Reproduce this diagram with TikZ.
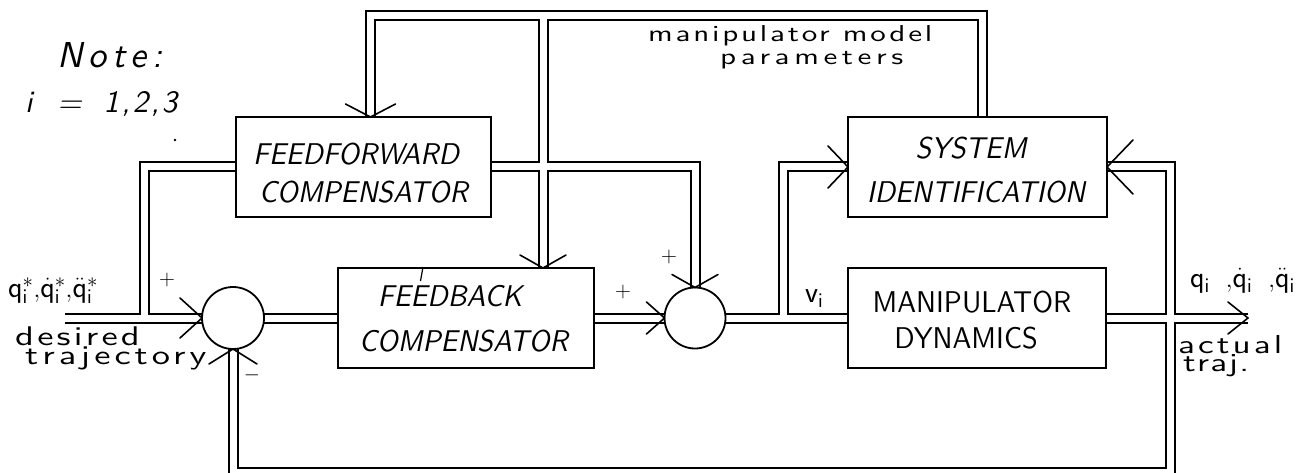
\documentclass[tikz,border=0pt]{standalone}
\usepackage{fontspec}
\newfontfamily\capsl{lmsans10-oblique.otf}[FakeStretch=0.94]
\newfontfamily\capup{lmsans10-regular.otf}[FakeStretch=0.94]
\newfontfamily\lowf{lmsans10-regular.otf}[FakeStretch=1.35]
\newfontfamily\lowsl{lmsans10-oblique.otf}
\pgfdeclarelayer{back}
\pgfdeclarelayer{wires}
\pgfsetlayers{back,wires,main}
\newcommand\wirepaths{%
  \draw (in0) -- (c1.west);
  \draw (FF.west) -| (j1);
  \draw (c1.east) -- (FB.west);
  \draw (FB.east) -- (c2.west);
  \draw (FF.east) -| (c2.north);
  \draw (SI.north -| tR) -- (tR) -- (tL) -- (tL |- FF.north);
  \draw (tM) -- (tM |- FB.north);
  \draw (c2.east) -- (MD.west);
  \draw (j2) |- (SI.west);
  \draw (MD.east) -- (out);
  \draw (SI.east) -| (j3) -| (c1.south);
}
\begin{document}
\begin{tikzpicture}[x=1pt,y=-1pt,
  blk/.style={draw, rectangle, line width=1.6pt, inner sep=0pt, outer sep=0pt},
  sumnode/.style={draw, circle, line width=1.8pt, inner sep=0pt, outer sep=0pt, minimum size=62pt},
  capsl/.style={inner sep=0pt, font=\capsl\fontsize{30}{30}\selectfont},
  capup/.style={inner sep=0pt, font=\capup\fontsize{30}{30}\selectfont},
  lowtxt/.style 2 args={inner sep=0pt, anchor=base west,
    font=\lowf\addfontfeature{LetterSpace=#1}\fontsize{#2}{#2}\selectfont},
  mathtxt/.style={inner sep=0pt, anchor=base west, font=\fontsize{30}{30}\selectfont},
  sgn/.style={inner sep=0pt, font=\fontsize{22}{22}\selectfont},
  headline/.style={line width=1.6pt, line cap=round, line join=miter},
  pics/vhead/.style 2 args={code={\draw[headline] (-#1,-#2) -- (0,0) -- (-#1,#2);}}
]
\begin{pgfonlayer}{back}
  \fill[white] (0,0) rectangle (1313,473);
\end{pgfonlayer}
\useasboundingbox (0,0) rectangle (1313,473);

% blocks
\node[blk, minimum width=255pt, minimum height=100pt] (FF) at (363.5,167) {};
\node[blk, minimum width=256pt, minimum height=100pt] (FB) at (466,318) {};
\node[blk, minimum width=259pt, minimum height=100pt] (SI) at (977.5,167) {};
\node[blk, minimum width=258pt, minimum height=100pt] (MD) at (977,318) {};
\node[sumnode] (c1) at (233,318) {};
\node[sumnode, minimum size=61pt] (c2) at (695,318) {};

% route points
\coordinate (in0) at (65,318);
\coordinate (j1) at (144,318);
\coordinate (tR) at (982.5,16);
\coordinate (tL) at (370.5,16);
\coordinate (tM) at (543,16);
\coordinate (j2) at (783,318);
\coordinate (out) at (1248,318);
\coordinate (j3) at (1170,472.5);

% double-line connectors
\begin{pgfonlayer}{wires}
  \begin{scope}[line width=11pt, black, line cap=butt, line join=miter]
    \wirepaths
  \end{scope}
  \begin{scope}[line width=7pt, white, line cap=butt, line join=miter]
    \wirepaths
  \end{scope}
\end{pgfonlayer}

% arrowheads
\pic[rotate=-90] at (tL |- FF.north) {vhead={13}{25}};
\pic[rotate=-90] at (tM |- FB.north) {vhead={13}{23}};
\pic[rotate=-90] at (c2.north) {vhead={13}{23}};
\pic[rotate=90] at (c1.south) {vhead={15}{24}};
\pic at (c1.west) {vhead={22}{20}};
\pic at (c2.west) {vhead={18}{16}};
\pic at (SI.west) {vhead={20}{21}};
\pic[rotate=180] at (SI.east) {vhead={26}{27}};
\pic at (out) {vhead={20}{16}};

% block texts
\node[capsl] (tFF1) at (356,154) {FEEDFORWARD};
\node[capsl] (tFF2) at (363.5,192) {COMPENSATOR};
\node[capsl] (tFB1) at (450,296) {FEEDBACK};
\node[capsl] (tFB2) at (463.5,341) {COMPENSATOR};
\node[capsl] (tSI1) at (971,148.5) {SYSTEM};
\node[capsl] (tSI2) at (976,192.5) {IDENTIFICATION};
\node[capup] (tMD1) at (972,302.5) {MANIPULATOR};
\node[capup] (tMD2) at (966,338) {DYNAMICS};

% other labels
\node[lowtxt={12}{23}] (tmm) at (648,42) {manipulator model};
\node[lowtxt={20}{23}] (tpar) at (720,65) {parameters};
\node[lowtxt={12}{27}] (tdes) at (15,345) {desired};
\node[lowtxt={15}{27}] (ttra) at (25,364) {trajectory};
\node[lowtxt={12}{26}] (tact) at (1178,353) {actual};
\node[lowtxt={5}{26}] (ttrj) at (1183,371) {traj.};
\node[inner sep=0pt, anchor=base west,
  font=\lowsl\addfontfeature{LetterSpace=16}\fontsize{36}{36}\selectfont] (tnote) at (57,68) {Note:};
\node[inner sep=0pt, anchor=base west,
  font=\lowsl\addfontfeature{LetterSpace=8}\fontsize{31}{31}\selectfont] (ti) at (25,113)
  {i\hspace{25pt}=\hspace{22pt}1,2,3};
\node[mathtxt] (qin) at (8,297)
  {$\mathsf{q}_{\mathsf{i}}^{*}{,}\dot{\mathsf{q}}_{\mathsf{i}}^{*}{,}\ddot{\mathsf{q}}_{\mathsf{i}}^{*}$};
\node[mathtxt] (qout) at (1190,287)
  {$\mathsf{q}_{\mathsf{i}}\hspace{16pt}{,}\dot{\mathsf{q}}_{\mathsf{i}}\hspace{16pt}{,}\ddot{\mathsf{q}}_{\mathsf{i}}$};
\node[mathtxt] (vi) at (805,302) {$\mathsf{v}_{\mathsf{i}}$};
\node[sgn] (p1) at (167,280) {+};
\node[sgn] (p2) at (623,292) {+};
\node[sgn] (p3) at (669,257) {+};
\node[sgn] (m1) at (252,375) {$-$};

% specks of the original drawing
\fill (175,140) circle (1.3pt);
\draw[line width=1.2pt] (423,267) -- (420.5,281);
\end{tikzpicture}
\end{document}
